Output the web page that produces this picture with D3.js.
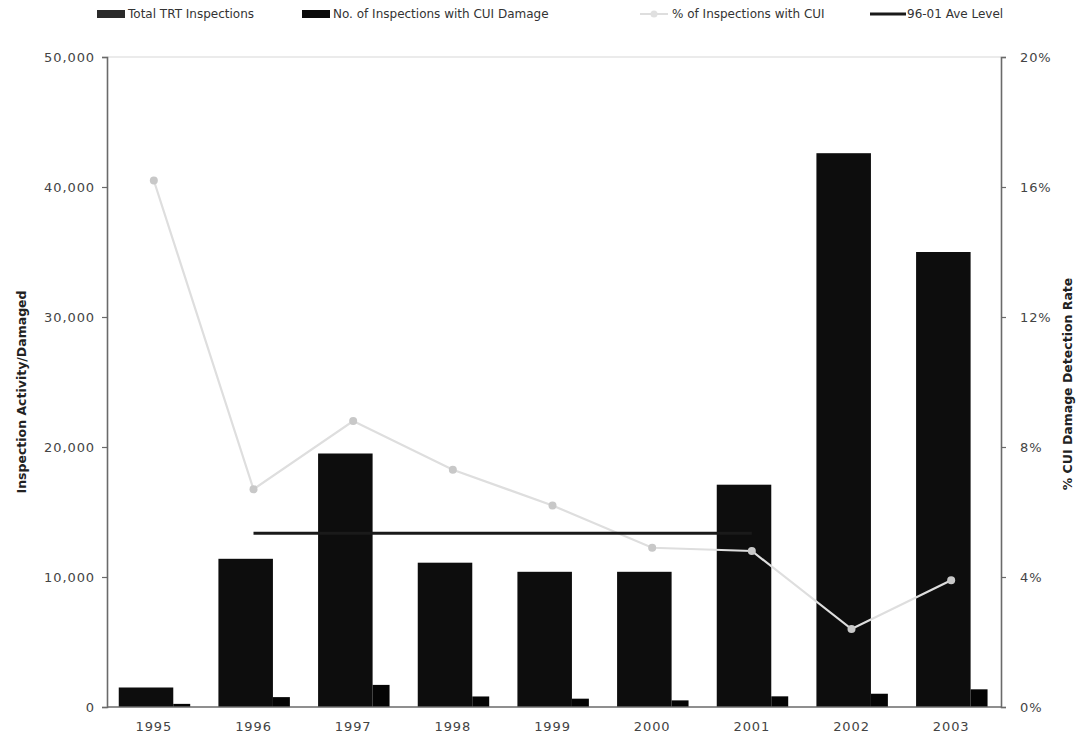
<!DOCTYPE html>
<html>
<head>
<meta charset="utf-8">
<script src="https://cdn.jsdelivr.net/npm/d3@7"></script>
<style>
  html, body { margin: 0; padding: 0; background: #fff; }
  svg { display: block; font-family: "DejaVu Sans", Verdana, sans-serif; }
</style>
</head>
<body>
<svg id="chart" width="1080" height="743"></svg>
<script>
// Inspection activity by year
const years = ["1995", "1996", "1997", "1998", "1999", "2000", "2001", "2002", "2003"];
const totalInspections = [1500, 11400, 19500, 11100, 10400, 10400, 17100, 42600, 35000];
const damagedInspections = [240, 760, 1700, 810, 640, 510, 820, 1020, 1360];
const pctWithCUI = [0.162, 0.067, 0.088, 0.073, 0.062, 0.049, 0.048, 0.024, 0.039];
// 1996-2001 average detection rate
const aveYears = ["1996", "2001"];
const aveLevel = 0.0535;

const leftTicks = [0, 10000, 20000, 30000, 40000, 50000];
const rightTicks = [0, 0.04, 0.08, 0.12, 0.16, 0.20];
const legendLabels = ["Total TRT Inspections", "No. of Inspections with CUI Damage", "% of Inspections with CUI", "96-01 Ave Level"];

const svg = d3.select("#chart");
const plot = { left: 107, right: 1001, top: 57, bottom: 707 };

const x = d3.scaleBand().domain(years).range([104, 1001]).padding(0);
const y = d3.scaleLinear().domain([0, 50000]).range([plot.bottom, plot.top]);
const yR = d3.scaleLinear().domain([0, 0.20]).range([plot.bottom, plot.top]);
const step = x.bandwidth();
const cx = d => x(d) + step / 2;

// frame: faint top edge
svg.append("line")
  .attr("x1", plot.left).attr("x2", plot.right)
  .attr("y1", plot.top).attr("y2", plot.top)
  .attr("stroke", "#e4e4e4").attr("stroke-width", 1.5);

// bars: total inspections
svg.append("g").selectAll("rect")
  .data(years)
  .join("rect")
  .attr("x", (d) => cx(d) - 0.352 * step)
  .attr("width", 0.547 * step)
  .attr("y", (d, i) => y(totalInspections[i]))
  .attr("height", (d, i) => y(0) - y(totalInspections[i]))
  .attr("fill", "#0d0d0d");

// bars: inspections with CUI damage
svg.append("g").selectAll("rect")
  .data(years)
  .join("rect")
  .attr("x", (d) => cx(d) + 0.195 * step)
  .attr("width", 0.17 * step)
  .attr("y", (d, i) => y(damagedInspections[i]))
  .attr("height", (d, i) => y(0) - y(damagedInspections[i]))
  .attr("fill", "#050505");

// detection rate line
const pctLine = d3.line()
  .x((d, i) => cx(years[i]))
  .y(d => yR(d));
svg.append("path")
  .datum(pctWithCUI)
  .attr("d", pctLine)
  .attr("fill", "none")
  .attr("stroke", "#dedede")
  .attr("stroke-width", 2.2);
svg.append("g").selectAll("circle")
  .data(pctWithCUI)
  .join("circle")
  .attr("cx", (d, i) => cx(years[i]))
  .attr("cy", d => yR(d))
  .attr("r", 4)
  .attr("fill", "#c8c8c8");

// 96-01 average level
svg.append("line")
  .attr("x1", cx(aveYears[0])).attr("x2", cx(aveYears[1]))
  .attr("y1", yR(aveLevel)).attr("y2", yR(aveLevel))
  .attr("stroke", "#1a1a1a").attr("stroke-width", 3);

// axes
const axisColor = "#6a6a6a";
const tickText = "#444";

const leftAxis = svg.append("g")
  .attr("transform", `translate(${plot.left},0)`)
  .call(d3.axisLeft(y).tickValues(leftTicks).tickFormat(d3.format(",")).tickSize(5).tickPadding(7));
const rightAxis = svg.append("g")
  .attr("transform", `translate(${plot.right},0)`)
  .call(d3.axisRight(yR).tickValues(rightTicks).tickFormat(d3.format(".0%")).tickSize(5).tickPadding(14));
const bottomAxis = svg.append("g")
  .attr("transform", `translate(0,${plot.bottom})`)
  .call(d3.axisBottom(x).tickSize(0).tickPadding(15));

[leftAxis, rightAxis, bottomAxis].forEach(g => {
  g.select(".domain").attr("stroke", axisColor).attr("stroke-width", 1.6);
  g.selectAll(".tick line").attr("stroke", axisColor).attr("stroke-width", 1.2);
  g.selectAll(".tick text")
    .attr("fill", tickText)
    .style("font-size", "13px")
    .style("letter-spacing", "0.9px")
    .style("font-family", "'DejaVu Sans', Verdana, sans-serif");
});
bottomAxis.select(".domain").attr("d", `M${plot.left},0H${plot.right}`);

// axis titles
svg.append("text")
  .attr("transform", "translate(26,392) rotate(-90)")
  .attr("text-anchor", "middle")
  .attr("fill", "#222")
  .style("font-size", "12.5px")
  .style("font-weight", "bold")
  .text("Inspection Activity/Damaged");
svg.append("text")
  .attr("transform", "translate(1072,384) rotate(-90)")
  .attr("text-anchor", "middle")
  .attr("fill", "#222")
  .style("font-size", "12.5px")
  .style("font-weight", "bold")
  .text("% CUI Damage Detection Rate");

// legend
const legend = svg.append("g").attr("transform", "translate(0,14)");
const legendItems = [
  { x: 97, kind: "bar", color: "#2a2a2a", label: legendLabels[0] },
  { x: 302, kind: "bar", color: "#0a0a0a", label: legendLabels[1] },
  { x: 640, kind: "pct", color: "#dedede", label: legendLabels[2] },
  { x: 870, kind: "ave", color: "#1a1a1a", label: legendLabels[3] }
];
legendItems.forEach(item => {
  const g = legend.append("g").attr("transform", `translate(${item.x},0)`);
  let textX;
  if (item.kind === "bar") {
    g.append("rect").attr("x", 0).attr("y", -4).attr("width", 28).attr("height", 8).attr("fill", item.color);
    textX = 31;
  } else if (item.kind === "pct") {
    g.append("line").attr("x1", 0).attr("x2", 28).attr("y1", 0).attr("y2", 0)
      .attr("stroke", item.color).attr("stroke-width", 2);
    g.append("circle").attr("cx", 14).attr("cy", 0).attr("r", 3.5).attr("fill", "#e0e0e0");
    textX = 32;
  } else {
    g.append("line").attr("x1", 0).attr("x2", 36).attr("y1", 0).attr("y2", 0)
      .attr("stroke", item.color).attr("stroke-width", 3);
    textX = 37;
  }
  g.append("text")
    .attr("x", textX).attr("y", 0)
    .attr("dy", "0.35em")
    .attr("fill", "#333")
    .style("font-size", "12px")
    .text(item.label);
});
</script>
</body>
</html>
